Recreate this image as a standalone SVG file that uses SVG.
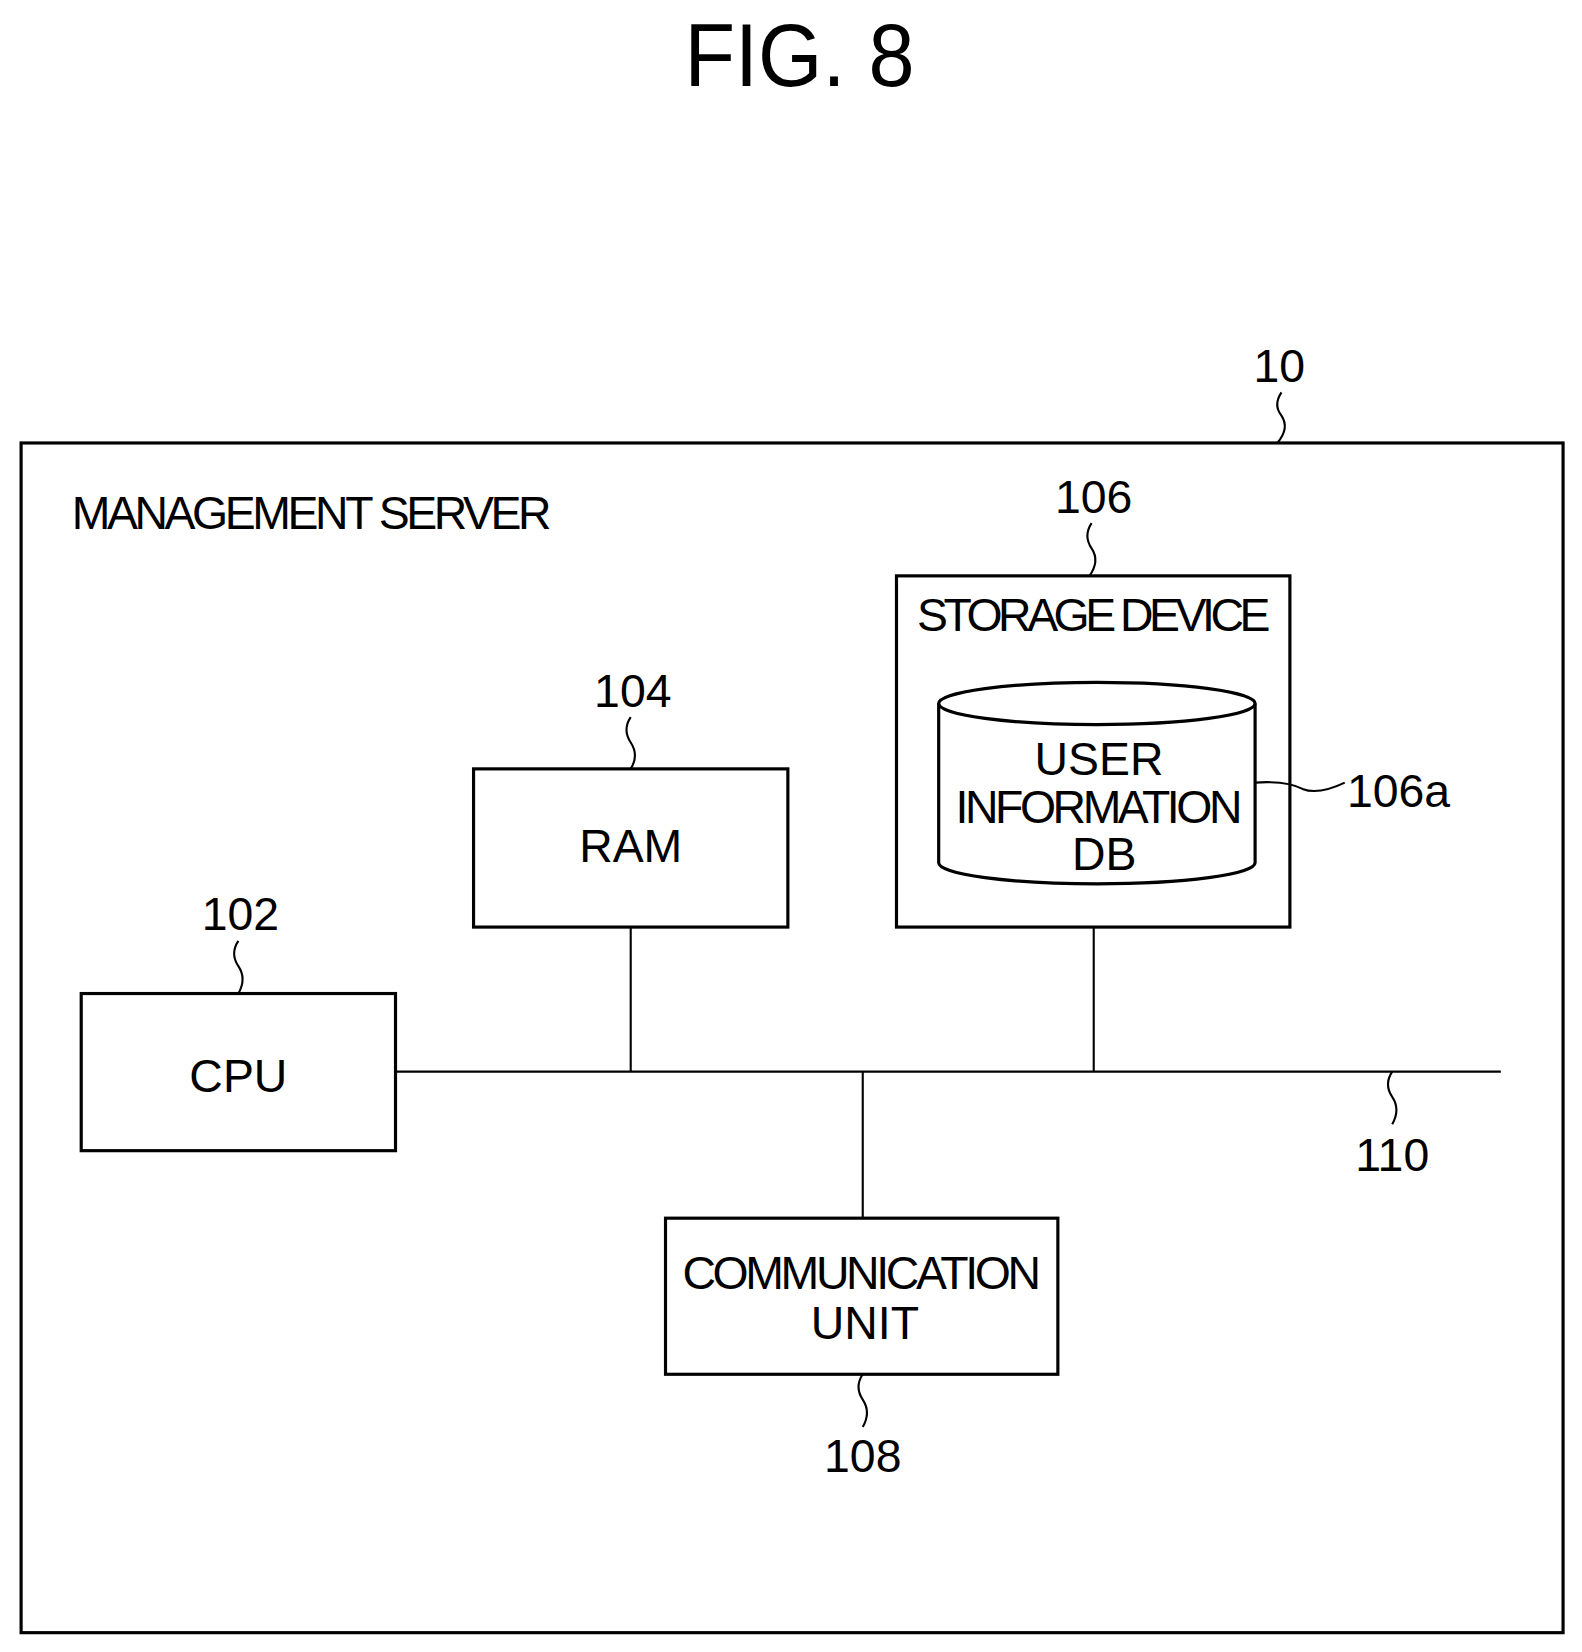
<svg xmlns="http://www.w3.org/2000/svg" width="1582" height="1652" viewBox="0 0 1582 1652">
<style>
.b{fill:none;stroke:#000;stroke-width:3}
.l{fill:none;stroke:#000;stroke-width:2}
text{font-family:"Liberation Sans",Arial,sans-serif;font-size:44px;fill:#000;text-anchor:middle}
</style>
<rect width="1582" height="1652" fill="#fff"/>
<g transform="scale(1.0547)">
<text x="758" y="82" style="font-size:84px" textLength="218" lengthAdjust="spacingAndGlyphs">FIG. 8</text>
<g id="server"><rect class="b" x="20" y="420" width="1462" height="1128"/>
<text x="68" y="502" style="text-anchor:start" textLength="455">MANAGEMENT SERVER</text>
<text x="1213" y="362">10</text><path class="l" d="M1215 372 q-8 12 0 22 q8 12 -4 26"/></g>
<g id="storage"><rect class="b" x="850" y="546" width="373" height="333"/>
<text x="1037" y="598" textLength="335">STORAGE DEVICE</text>
<text x="1037" y="486">106</text><path class="l" d="M1035 496 q-8 12 0 24 q8 12 -2 26"/></g>
<g id="db"><path class="b" d="M890 667 v151 a150 20 0 0 0 300 0 v-151"/><ellipse class="b" cx="1040" cy="667" rx="150" ry="20"/>
<text x="1042" y="735">USER</text><text x="1042" y="780" textLength="272">INFORMATION</text><text x="1047" y="825">DB</text>
<path class="l" d="M1190 742 q30 -2 45 6 q15 6 40 -6"/><text x="1326" y="765">106a</text></g>
<g id="ram"><rect class="b" x="449" y="729" width="298" height="150"/><text x="598" y="817">RAM</text>
<text x="600" y="670">104</text><path class="l" d="M598 680 q-8 12 0 24 q8 12 0 25"/></g>
<g id="cpu"><rect class="b" x="77" y="942" width="298" height="149"/><text x="226" y="1035">CPU</text>
<text x="228" y="882">102</text><path class="l" d="M226 892 q-8 12 0 24 q8 12 0 26"/></g>
<g id="comm"><rect class="b" x="631" y="1155" width="372" height="148"/><text x="817" y="1222" textLength="340">COMMUNICATION</text><text x="820" y="1270">UNIT</text>
<text x="818" y="1396">108</text><path class="l" d="M818 1303 q-8 12 0 24 q8 12 0 26"/></g>
<g id="connectors">
<path class="l" d="M375 1016 H1423 M598 879 V1016 M1037 879 V1016 M818 1016 V1155"/>
<path class="l" d="M1320 1016 q-8 12 0 24 q8 12 0 26"/><text x="1320" y="1110">110</text>
</g>
</g>
</svg>
